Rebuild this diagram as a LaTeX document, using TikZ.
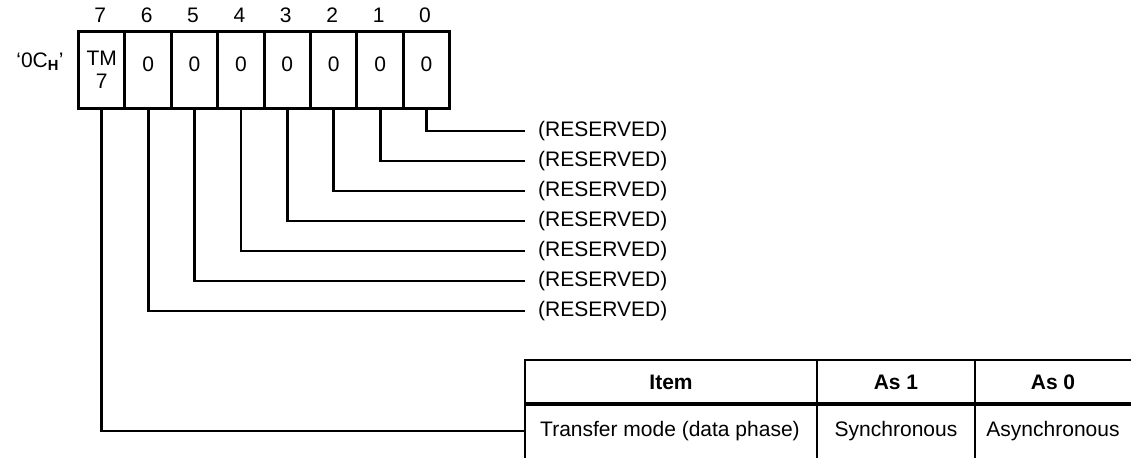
\documentclass[tikz,border=0pt]{standalone}
\usepackage{fontspec}
\setmainfont{Liberation Sans}
\usetikzlibrary{positioning}
\tikzset{bitcell/.style = {draw, line width=3pt, minimum width=46.4pt,
                           minimum height=77pt, inner sep=0pt, anchor=north west},
         bitnum/.style = {inner sep=0pt},
         leader/.style = {line width=2.8pt},
         resv/.style = {anchor=west, inner xsep=13pt, inner ysep=0pt},
         tabrule/.style = {line width=2.5pt},
         headrule/.style = {line width=4.5pt}}

\begin{document}
\begin{tikzpicture}[x=1pt, y=-1pt, font=\fontsize{21}{23}\selectfont]
    \useasboundingbox (0, 0) rectangle (1131, 458);
    \node (reg) at (40, 62) {‘0C\textsubscript{\textbf{H}}’};
    % register cells, bit 7 on the left
    \foreach \i in {0,...,7} {
      \pgfmathsetmacro\xl{77 + (7 - \i)*46.4}
      \node [bitcell] (b\i) at (\xl, 30) {};
      \node [bitnum] (n\i) at (\xl + 23.2, 15) {\i};
    }
    \node [align=center] (v7) at (b7.center) {TM\\7};
    \foreach \i in {0,...,6} {
      \node (v\i) at ([yshift=6pt]b\i.center) {0};
    }
    % reserved bits
    \foreach \i in {0,...,6} {
      \node [resv] (r\i) at (525, 131 + 30*\i) {(RESERVED)};
      \draw [leader] (b\i.south) |- (r\i.west);
    }
    % table for bit 7
    \coordinate (tl) at (525, 360);
    \draw [tabrule] (525, 458) -- (tl) -- (1131, 360);
    \draw [headrule] (525, 404) -- (1131, 404);
    \draw [tabrule] (817, 360) -- (817, 458);
    \draw [tabrule] (975, 360) -- (975, 458);
    \node [font=\fontsize{21}{23}\selectfont\bfseries] (hitem) at (671, 382) {Item};
    \node [font=\fontsize{21}{23}\selectfont\bfseries] (hone) at (896, 382) {As 1};
    \node [font=\fontsize{21}{23}\selectfont\bfseries] (hzero) at (1053, 382) {As 0};
    \node [anchor=west, inner xsep=15pt] (item) at (525, 431) {Transfer mode (data phase)};
    \node (one) at (896, 431) {Synchronous};
    \node (zero) at (1053, 431) {Asynchronous};
    \draw [leader] (b7.south) |- (item.west);
  \end{tikzpicture}
\end{document}
